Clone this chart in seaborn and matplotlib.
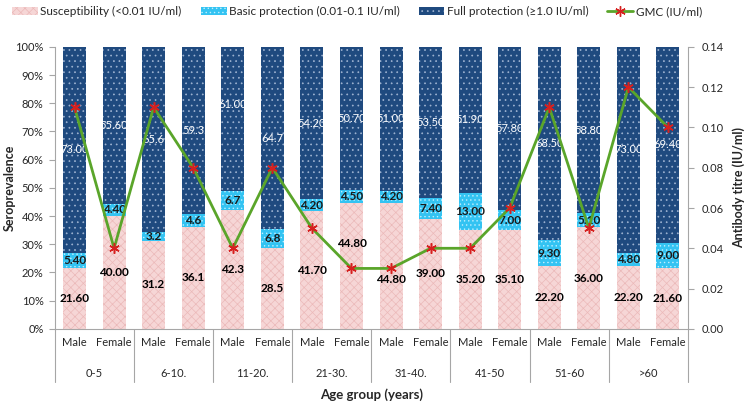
import numpy as np
import pandas as pd
import matplotlib
matplotlib.use("Agg")
import matplotlib.pyplot as plt
import seaborn as sns
from matplotlib.patches import Patch
from matplotlib.lines import Line2D
import matplotlib.transforms as mtransforms

sns.set_style("white")
plt.rcParams['font.family'] = ['Lato', 'DejaVu Sans']
plt.rcParams['hatch.linewidth'] = 0.5

# datos
age_groups = ["0-5", "6-10.", "11-20.", "21-30.", "31-40.", "41-50", "51-60", ">60"]
sexes = ["Male", "Female"]
susc_lbl = ["21.60", "40.00", "31.2", "36.1", "42.3", "28.5", "41.70", "44.80",
            "44.80", "39.00", "35.20", "35.10", "22.20", "36.00", "22.20", "21.60"]
basic_lbl = ["5.40", "4.40", "3.2", "4.6", "6.7", "6.8", "4.20", "4.50",
             "4.20", "7.40", "13.00", "7.00", "9.30", "5.10", "4.80", "9.00"]
full_lbl = ["73.00", "55.60", "65.6", "59.3", "61.00", "64.7", "54.20", "50.70",
            "51.00", "53.50", "51.90", "57.80", "68.50", "58.80", "73.00", "69.40"]
gmc = [0.11, 0.04, 0.11, 0.08, 0.04, 0.08, 0.05, 0.03,
       0.03, 0.04, 0.04, 0.06, 0.11, 0.05, 0.12, 0.10]

susc = np.array([float(v) for v in susc_lbl])
basic = np.array([float(v) for v in basic_lbl])
full = np.array([float(v) for v in full_lbl])

df = pd.DataFrame({
    "bar": [f"{g}|{s}" for g in age_groups for s in sexes],
    "susc": susc, "basic": basic, "full": full, "gmc": gmc,
})
df["sb"] = df["susc"] + df["basic"]
df["total"] = df["sb"] + df["full"]
order = list(df["bar"])

c_susc, c_basic, c_full = "#f6d6d6", "#33c3f2", "#1f4a7f"
c_line, c_mark = "#5aa52a", "#d6201f"
h_susc, h_basic, h_full = "#ebb9b9", "#bfefff", "#9fb4d2"

fig = plt.figure(figsize=(7.5, 4.04), dpi=100)
ax = fig.add_axes([0.073, 0.186, 0.844, 0.698])

w = 0.58
sns.barplot(data=df, x="bar", y="total", order=order, color=c_full, width=w,
            saturation=1, edgecolor=h_full, hatch="...", linewidth=0, ax=ax)
sns.barplot(data=df, x="bar", y="sb", order=order, color=c_basic, width=w,
            saturation=1, edgecolor=h_basic, hatch="....", linewidth=0, ax=ax)
sns.barplot(data=df, x="bar", y="susc", order=order, color=c_susc, width=w,
            saturation=1, edgecolor=h_susc, hatch="xxxx", linewidth=0, ax=ax)
for p in ax.patches:
    p.set_linewidth(0)

# etiquetas de datos
label_shift = {7: 8.0, 8: -5.0}
for i in range(len(df)):
    y1 = susc[i] / 2 + label_shift.get(i, 0)
    ax.text(i, y1, susc_lbl[i], ha="center", va="center", fontsize=8.5,
            fontweight="bold", color="black")
    ax.text(i, susc[i] + basic[i] / 2, basic_lbl[i], ha="center", va="center",
            fontsize=8.5, fontweight="bold", color="#1a1a1a")
    ax.text(i, susc[i] + basic[i] + full[i] / 2, full_lbl[i], ha="center",
            va="center", fontsize=8, color="white")

ax.set_xlim(-0.5, len(df) - 0.5)
ax.set_ylim(0, 100)
ax.set_yticks(np.arange(0, 101, 10))
ax.set_yticklabels([f"{v}%" for v in range(0, 101, 10)], fontsize=8)
ax.set_xticks([])
ax.set_xlabel("")
ax.set_ylabel("Seroprevalence", fontsize=9, fontweight="bold")
ax.yaxis.set_label_coords(-0.062, 0.5)
for s in ["top", "right"]:
    ax.spines[s].set_visible(False)
for s in ["left", "bottom"]:
    ax.spines[s].set_color("#a6a6a6")
ax.tick_params(axis="y", length=4, color="#a6a6a6", direction="out", left=True, pad=4)

# eje secundario con la GMC
ax2 = ax.twinx()
sns.lineplot(x=np.arange(len(df)), y=df["gmc"], ax=ax2, color=c_line, linewidth=2,
             marker=(6, 2, 0), markersize=7.5, markeredgecolor=c_mark,
             markeredgewidth=1.1, markerfacecolor=c_mark)
ax2.set_ylim(0, 0.14)
ax2.set_yticks(np.arange(0, 0.141, 0.02))
ax2.set_yticklabels([f"{v:.2f}" for v in np.arange(0, 0.141, 0.02)], fontsize=8)
ax2.set_ylabel("Antibody titre (IU/ml)", fontsize=9, fontweight="bold")
ax2.yaxis.set_label_coords(1.07, 0.5)
for s in ["top", "left", "bottom"]:
    ax2.spines[s].set_visible(False)
ax2.spines["right"].set_color("#a6a6a6")
ax2.tick_params(axis="y", length=4, color="#a6a6a6", direction="out", right=True, pad=6)
ax2.set_xlim(-0.5, len(df) - 0.5)

# eje de categorías en dos niveles
trans = mtransforms.blended_transform_factory(ax.transData, ax.transAxes)
for i, lab in enumerate(df["bar"]):
    ax.text(i, -0.048, lab.split("|")[1], transform=trans, ha="center",
            va="center", fontsize=8)
for j, g in enumerate(age_groups):
    ax.text(2 * j + 0.5, -0.16, g, transform=trans, ha="center",
            va="center", fontsize=8)
for b in np.arange(-0.5, len(df), 2):
    ax.plot([b, b], [0, -0.19], transform=trans, color="#a6a6a6", lw=0.8,
            clip_on=False)
ax.text(0.5, -0.235, "Age group (years)", transform=ax.transAxes, ha="center",
        va="center", fontsize=9.5, fontweight="bold")

handles = [
    Patch(facecolor=c_susc, edgecolor=h_susc, hatch="xxxx", linewidth=0,
          label="Susceptibility (<0.01 IU/ml)"),
    Patch(facecolor=c_basic, edgecolor=h_basic, hatch="....", linewidth=0,
          label="Basic protection (0.01-0.1 IU/ml)"),
    Patch(facecolor=c_full, edgecolor=h_full, hatch="...", linewidth=0,
          label="Full protection (≥1.0 IU/ml)"),
    Line2D([0], [0], color=c_line, lw=2, marker=(6, 2, 0), markersize=7.5,
           markeredgecolor=c_mark, label="GMC (IU/ml)"),
]
fig.legend(handles=handles, loc="center", bbox_to_anchor=(0.476, 0.972), ncol=4,
           frameon=False, fontsize=8.5, handlelength=2.2, handleheight=0.7,
           columnspacing=1.6, handletextpad=0.2)

fig.savefig("out.png", dpi=100)
